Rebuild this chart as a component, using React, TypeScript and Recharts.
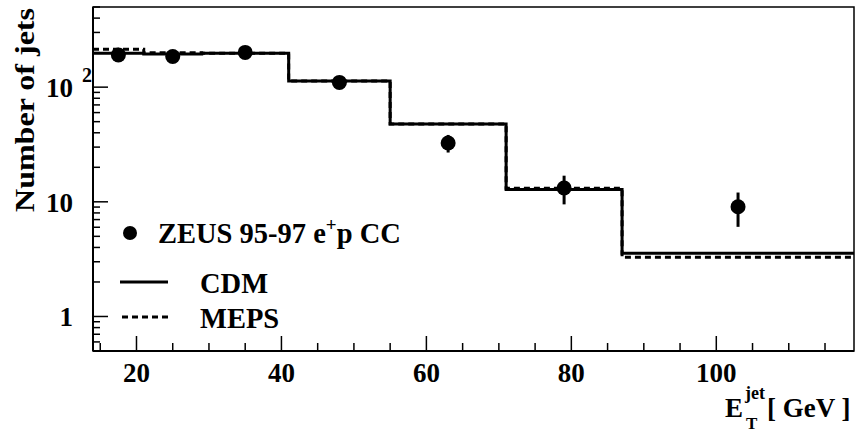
import {
  ComposedChart,
  Line,
  Scatter,
  ErrorBar,
  XAxis,
  YAxis,
  ReferenceArea,
} from "recharts";

// histogram bins (E_T^jet, GeV) and predicted jet counts
const binEdges = [14, 21, 29, 41, 55, 71, 87, 119];
const cdmCounts = [198, 195, 198, 113, 47.7, 12.8, 3.56];
const mepsCounts = [214, 200, 198, 113, 47.7, 13.1, 3.28];

// ZEUS 95-97 e+p CC measured points
const dataEt = [17.5, 25, 35, 48, 63, 79, 103];
const dataJets = [191, 185, 201, 110, 32.6, 13.2, 9.05];
const dataErr = [14, 14, 14, 10.5, 5.7, 3.7, 3];

const xTicks = [15, 20, 25, 30, 35, 40, 45, 50, 55, 60, 65, 70, 75, 80, 85, 90, 95, 100, 105, 110, 115];
const yTicks = [
  0.6, 0.7, 0.8, 0.9, 1, 2, 3, 4, 5, 6, 7, 8, 9, 10, 20, 30, 40, 50, 60, 70, 80, 90, 100, 200, 300, 400, 500,
];

const FONT = "'Liberation Serif', 'Times New Roman', serif";

// stepAfter needs the last edge repeated with the last bin value
const toSteps = (counts: number[]) =>
  binEdges.map((edge, i) => ({ x: edge, y: counts[Math.min(i, counts.length - 1)] }));

const cdmSteps = toSteps(cdmCounts);
const mepsSteps = toSteps(mepsCounts);

const points = dataEt.map((et, i) => ({ x: et, y: dataJets[i], err: dataErr[i] }));

const XTick = (props: any) => {
  const { x, y, payload } = props;
  const major = payload.value % 20 === 0;
  return (
    <g>
      <line x1={x} y1={y} x2={x} y2={y - (major ? 15 : 8)} stroke="#000" strokeWidth={1.5} />
      {major && (
        <text x={x} y={y + 31} textAnchor="middle" fontFamily={FONT} fontWeight="bold" fontSize={27} fill="#000">
          {payload.value}
        </text>
      )}
    </g>
  );
};

const YTick = (props: any) => {
  const { x, y, payload } = props;
  const lg = Math.log10(payload.value);
  const major = Math.abs(lg - Math.round(lg)) < 1e-9;
  return (
    <g>
      <line x1={x} y1={y} x2={x + (major ? 15 : 7)} y2={y} stroke="#000" strokeWidth={1.5} />
      {major && payload.value < 100 && (
        <text x={x - 20} y={y + 10} textAnchor="end" fontFamily={FONT} fontWeight="bold" fontSize={27} fill="#000">
          {payload.value}
        </text>
      )}
      {major && payload.value === 100 && (
        <g fontFamily={FONT} fontWeight="bold" fill="#000">
          <text x={x - 20} y={y + 10} textAnchor="end" fontSize={27}>
            10
          </text>
          <text x={x - 11} y={y - 5} fontSize={20}>
            2
          </text>
        </g>
      )}
    </g>
  );
};

const YTitle = () => (
  <text
    transform="translate(34, 110) rotate(-90)"
    textAnchor="middle"
    fontFamily={FONT}
    fontWeight="bold"
    fontSize={28}
    fill="#000"
    textLength={204}
    lengthAdjust="spacingAndGlyphs"
  >
    Number of jets
  </text>
);

const XTitle = () => (
  <g fontFamily={FONT} fontWeight="bold" fill="#000">
    <text x={725} y={417} fontSize={27}>E</text>
    <text x={745} y={399} fontSize={18}>jet</text>
    <text x={746} y={429} fontSize={17}>T</text>
    <text x={767} y={417} fontSize={27}>[ GeV ]</text>
  </g>
);

const LegendBox = () => (
  <svg width={340} height={125} style={{ position: "absolute", left: 110, top: 212 }}>
    <g fontFamily={FONT} fontWeight="bold" fill="#000" fontSize={28.5}>
      <circle cx={20} cy={21} r={7} fill="#000" />
      <text x={48} y={31}>
        ZEUS 95-97 e
        <tspan fontSize={19} dy={-12}>+</tspan>
        <tspan dy={12}>p CC</tspan>
      </text>
      <line x1={10} y1={70} x2={58} y2={70} stroke="#000" strokeWidth={3} />
      <text x={90} y={81}>CDM</text>
      <line x1={12} y1={105} x2={58} y2={105} stroke="#000" strokeWidth={3} strokeDasharray="6 4" />
      <text x={90} y={116}>MEPS</text>
    </g>
  </svg>
);

export default function App() {
  return (
    <div style={{ position: "absolute", left: 0, top: 0, width: 864, height: 434, background: "#fff" }}>
      <ComposedChart width={864} height={434} margin={{ top: 7, right: 10, bottom: 53, left: 33 }}>
        <XAxis
          type="number"
          dataKey="x"
          domain={[14, 119]}
          ticks={xTicks}
          interval={0}
          allowDataOverflow
          height={30}
          tickSize={0}
          tickMargin={0}
          tickLine={false}
          axisLine={{ stroke: "#000", strokeWidth: 2 }}
          tick={<XTick />}
          label={{ content: () => <XTitle /> }}
        />
        <YAxis
          type="number"
          scale="log"
          domain={[0.5, 500]}
          ticks={yTicks}
          interval={0}
          allowDataOverflow
          width={60}
          tickSize={0}
          tickMargin={0}
          tickLine={false}
          axisLine={{ stroke: "#000", strokeWidth: 2 }}
          tick={<YTick />}
          label={{ content: () => <YTitle /> }}
        />
        <ReferenceArea x1={14} x2={119} y1={0.5} y2={500} fill="none" stroke="#000" strokeWidth={1.5} />
        <Line
          data={mepsSteps}
          dataKey="y"
          type="stepAfter"
          stroke="#000"
          strokeWidth={3}
          strokeDasharray="6 4"
          dot={false}
          activeDot={false}
          isAnimationActive={false}
        />
        <Line
          data={cdmSteps}
          dataKey="y"
          type="stepAfter"
          stroke="#000"
          strokeWidth={3}
          dot={false}
          activeDot={false}
          isAnimationActive={false}
        />
        <Scatter
          data={points}
          dataKey="y"
          fill="#000"
          isAnimationActive={false}
          shape={(p: any) => <circle cx={p.cx} cy={p.cy} r={7.5} fill="#000" />}
        >
          <ErrorBar dataKey="err" direction="y" width={0} stroke="#000" strokeWidth={3} />
        </Scatter>
      </ComposedChart>
      <LegendBox />
    </div>
  );
}
